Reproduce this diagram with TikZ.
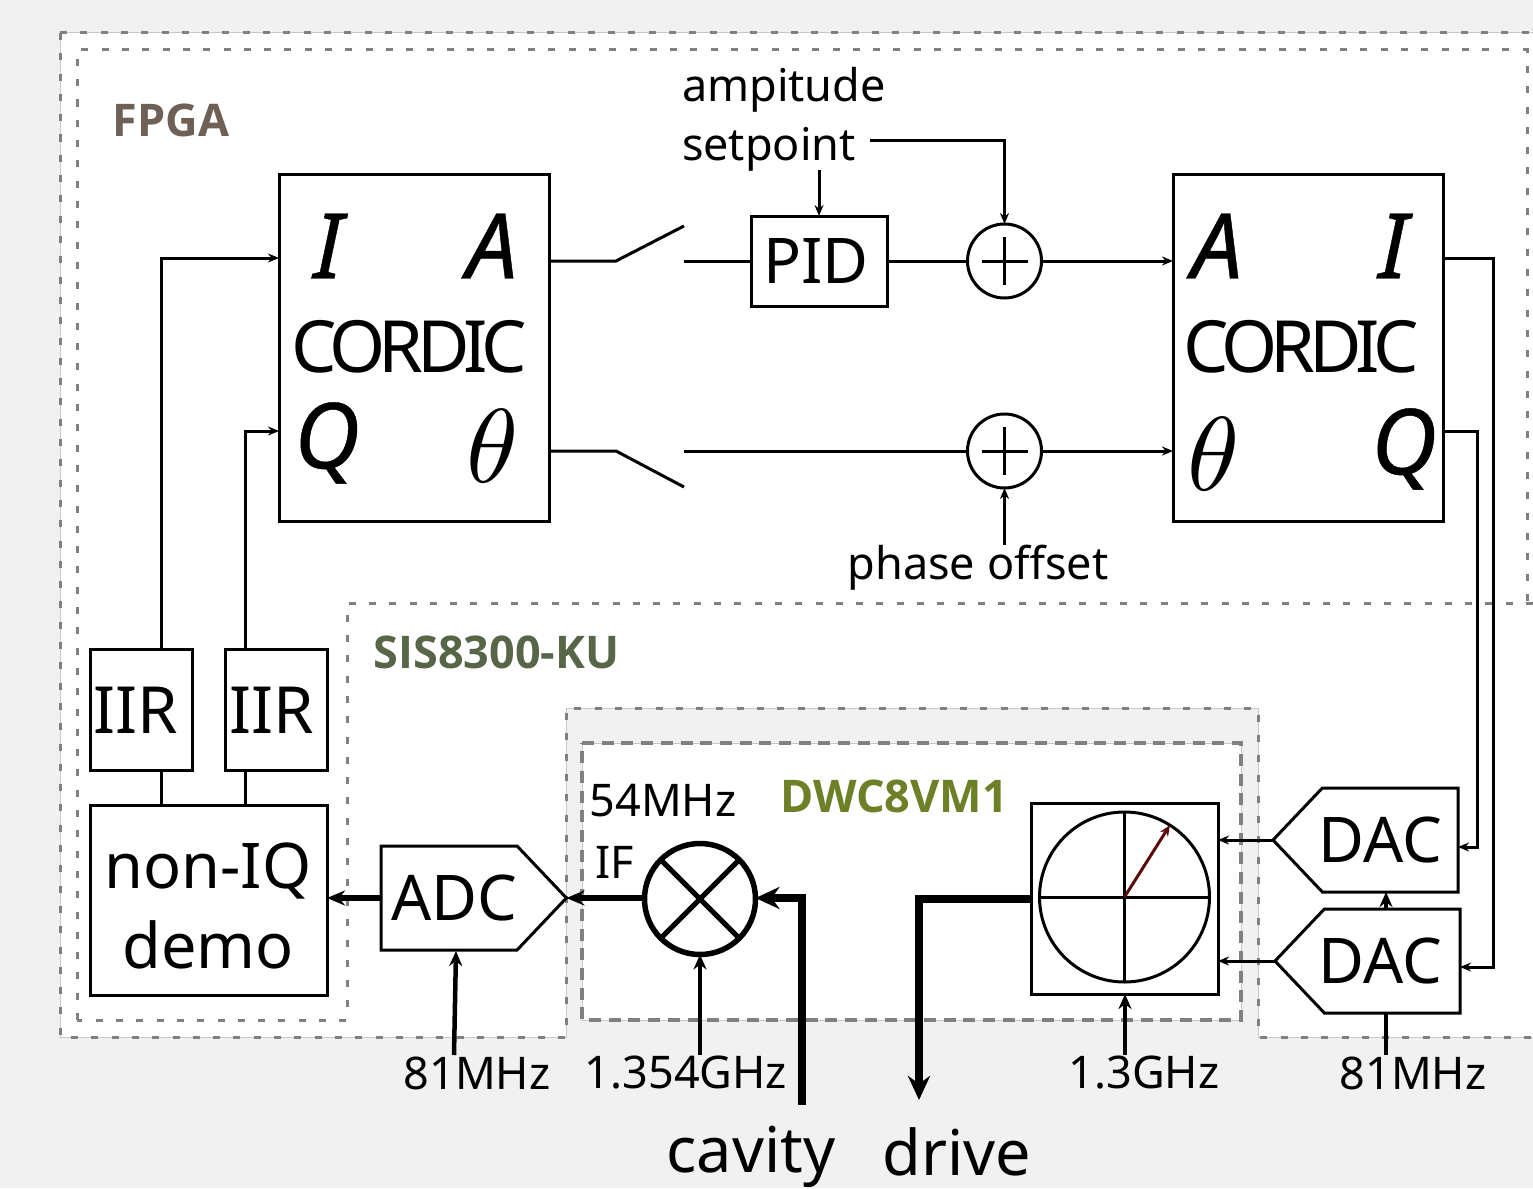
\documentclass[tikz,border=0pt]{standalone}
\usepackage{graphicx}
\usepackage{fontspec}
\setmainfont{Noto Sans}
\newfontfamily\boardfont{Open Sans}
\usetikzlibrary{calc,shapes.symbols,arrows.meta}
\definecolor{pagegray}{HTML}{F1F1F1}
\definecolor{dashgray}{HTML}{808080}
\definecolor{edgegray}{HTML}{C8C8C8}
\definecolor{fpgabrown}{HTML}{6F6055}
\definecolor{sisgreen}{HTML}{566647}
\definecolor{dwcgreen}{HTML}{6D7F27}
\definecolor{phasorred}{HTML}{5A0A0A}
\newcommand{\fs}[1]{\fontsize{#1}{#1}\selectfont}
\newcommand{\bigtheta}{\scalebox{10.5}{$\theta$}}
\tikzset{
    sumcircle/.style={
        draw, circle, minimum size=74pt, line width=3pt,
        inner sep=0pt,
        path picture = {
            \draw[line width=3pt]
            ($(path picture bounding box.center)+(-23,0)$) --
            ($(path picture bounding box.center)+(23,0)$)
            ($(path picture bounding box.center)+(0,-24)$) --
            ($(path picture bounding box.center)+(0,24)$);
        }
    },
    mixcircle/.style={
        draw, circle, minimum size=111pt, line width=5.5pt,
        inner sep=0pt,
        path picture = {
            \draw[line width=5pt]
            (path picture bounding box.north west) --
            (path picture bounding box.south east)
            (path picture bounding box.south west) --
            (path picture bounding box.north east);
        }
    }
}

\begin{document}
\begin{tikzpicture}[
        x=1pt, y=-1pt,
        every node/.style={outer sep=0pt, inner sep=0pt},
        block/.style={draw, rectangle, line width=3pt},
        converter/.style={
            draw, signal, line width=3pt, signal pointer angle=93,
            minimum height=104pt
        },
        label/.style={font=\fs{45}},
        big/.style={font=\fs{63}},
        board/.style={font=\fs{45}\boardfont\bfseries},
        letter/.style={font=\fs{91}\itshape\addfontfeature{FakeBold=0.5}},
        cordic/.style={font=\fs{72}\addfontfeature{LetterSpace=-9}},
        wire/.style={line width=3pt, -{Stealth[length=11pt,width=9pt]}},
        plain/.style={line width=3pt},
        clock/.style={line width=4.5pt, -{Stealth[length=15pt,width=13pt]}},
        feed/.style={line width=6pt, -{Stealth[length=18pt,width=15pt]}},
        power/.style={line width=8pt, -{Stealth[length=24pt,width=22pt]}},
        region/.style={draw=dashgray, line width=3pt, dash pattern=on 7pt off 13.3pt},
        inner region/.style={draw=dashgray, line width=4pt, dash pattern=on 12pt off 7.7pt}
    ]

    \useasboundingbox (0,0) rectangle (1533,1188);
    \fill[pagegray] (0,0) rectangle (1533,1188);

    % boards
    \fill[white] (60,33) -- (1540,33) -- (1540,1037) -- (1258,1037) -- (1258,708)
        -- (566,708) -- (566,1037) -- (60,1037) -- cycle;
    \fill[white] (582,743) rectangle (1241,1020);
    \draw[edgegray, line width=1pt] (60,33) -- (1540,33) -- (1540,1037) -- (1258,1037) -- (1258,708)
        -- (566,708) -- (566,1037) -- (60,1037) -- cycle;
    \draw[edgegray, line width=1pt] (582,743) rectangle (1241,1020);
    \draw[region] (60,33) -- (1540,33);
    \draw[region] (60,33) -- (60,1037) -- (566,1037) -- (566,708) -- (1258,708) -- (1258,1037) -- (1540,1037);
    \draw[region] (77,1020) -- (77,50) -- (1527,50) -- (1527,603);
    \draw[region] (1533,603) -- (347,603) -- (347,1020) -- (77,1020);
    \draw[inner region] (582,743) -- (1241,743) -- (1241,1020) -- (582,1020) -- cycle;

    \node[board, text=fpgabrown] (fpga) at (171,120) {FPGA};
    \node[board, text=sisgreen] (sis) at (496.5,652) {SIS8300-KU};
    \node[board, text=dwcgreen] (dwc) at (894,796) {DWC8VM1};

    % blocks
    \node[block, minimum width=270pt, minimum height=347pt] (cordicin) at (414,347.5) {};
    \node[block, minimum width=270pt, minimum height=347pt] (cordicout) at (1308,347.5) {};
    \node[cordic] (cin) at (409,347) {CORDIC};
    \node[cordic] (cout) at (1301,347) {CORDIC};
    \node[letter] (inI) at (328,246) {I};
    \node[letter] (inA) at (492,246) {A};
    \node[letter] (inQ) at (327,443) {Q};
    \node (inT) at (493,446.5) {\bigtheta};
    \node[letter] (outA) at (1217,246) {A};
    \node[letter] (outI) at (1393,246) {I};
    \node (outT) at (1214,454) {\bigtheta};
    \node[letter] (outQ) at (1404,449) {Q};

    \node[block, big, minimum width=136pt, minimum height=90pt] (pid) at (819,261) {\kern-6pt PID};
    \node[sumcircle] (suma) at (1004.5,261) {};
    \node[sumcircle] (sumt) at (1004.5,451) {};

    \node[block, font=\fs{65}, minimum width=102pt, minimum height=121pt] (iira) at (141,710) {\kern-10pt IIR};
    \node[block, font=\fs{65}, minimum width=102pt, minimum height=121pt] (iirb) at (276,710) {\kern-8pt\raisebox{-2pt}{IIR}};
    \node[block, minimum width=237pt, minimum height=190pt] (demo) at (208.5,900) {};
    \node[big, anchor=base] (nonq) at (208,888) {non-IQ};
    \node[big, anchor=base] (demotext) at (208,968) {demo};

    \node[converter, big, signal to=east, anchor=west, minimum width=184pt] (adc) at (381,898) {\kern10pt ADC};
    \node[mixcircle] (mixer) at (700,899) {};
    \node[block, minimum width=187pt, minimum height=191pt] (phasor) at (1124.5,898.5) {};
    \node[draw, circle, line width=3pt, minimum size=170pt] (unit) at (1124.5,897) {};
    \node[converter, big, signal to=west, anchor=east, minimum width=185pt] (daca) at (1458,840) {\kern-20pt DAC};
    \node[converter, big, signal to=west, anchor=east, minimum width=185pt] (dacb) at (1460,961) {\kern-24pt DAC};

    % texts
    \node[label, anchor=base west] (amp) at (682,102) {ampitude};
    \node[label, anchor=base west] (set) at (682,160) {setpoint};
    \node[label] (off) at (978,568) {phase offset};
    \node[label] (adcclk) at (477,1073) {81MHz};
    \node[label] (lo) at (686,1073) {1.354GHz};
    \node[label] (upclk) at (1144,1073) {1.3GHz};
    \node[label] (dacclk) at (1413,1073) {81MHz};
    \node[label] (ifreq) at (663,801) {54MHz};
    \node[label] (iflabel) at (615,862) {IF};
    \node[big] (cavity) at (751,1157) {cavity};
    \node[big] (drive) at (957,1152) {drive};

    % switches
    \coordinate (swapost) at (616,261);
    \coordinate (swaopen) at (684,226);
    \coordinate (swaback) at (684,261);
    \coordinate (swtpost) at (616,451);
    \coordinate (swtopen) at (684,487);
    \coordinate (swtback) at (684,451);
    \draw[plain] (cordicin.east |- swapost) -- (swapost) -- (swaopen);
    \draw[plain] (swaback) -- (pid.west);
    \draw[plain] (pid.east) -- (suma.west);
    \draw[wire] (suma.east) -- (cordicout.west |- suma);
    \draw[plain] (cordicin.east |- swtpost) -- (swtpost) -- (swtopen);
    \draw[plain] (swtback) -- (sumt.west);
    \draw[wire] (sumt.east) -- (cordicout.west |- sumt);

    % setpoints
    \coordinate (setout) at (870,140);
    \coordinate (setpid) at (819,170);
    \coordinate (offout) at (1004.5,545);
    \draw[wire] (setout) -| (suma.north);
    \draw[wire] (setpid) -- (pid.north);
    \draw[wire] (offout) -- (sumt.south);

    % filters
    \coordinate (iinput) at (161,258);
    \coordinate (qinput) at (245,431);
    \draw[wire] (iinput |- iira.north) -- (iinput) -- (cordicin.west |- iinput);
    \draw[wire] (qinput |- iirb.north) -- (qinput) -- (cordicin.west |- qinput);
    \draw[plain] (iinput |- iira.south) -- (iinput |- demo.north);
    \draw[plain] (qinput |- iirb.south) -- (qinput |- demo.north);

    % outputs
    \coordinate (iturn) at (1493,258);
    \coordinate (qturn) at (1477,431);
    \coordinate (iend) at (1493,967);
    \coordinate (qend) at (1477,847);
    \draw[wire] (cordicout.east |- iturn) -- (iturn) -- (iend) -- (dacb.east |- iend);
    \draw[wire] (cordicout.east |- qturn) -- (qturn) -- (qend) -- (daca.east |- qend);

    % front end
    \draw[feed] (adc.west) -- (demo.east |- adc);
    \draw[feed] (mixer.west |- adc) -- (adc.east);
    \coordinate (cavityin) at (802,1105);
    \coordinate (driveout) at (919,1100);
    \draw[power] (cavityin) |- (mixer.east |- adc);
    \draw[power] (phasor.west) -| (driveout);
    \coordinate (adcfoot) at (454,1055);
    \coordinate (adchead) at (456,951);
    \coordinate (lofoot) at (700,1055);
    \coordinate (upfoot) at (1125,1055);
    \coordinate (dacfoot) at (1386,1055);
    \draw[clock] (adcfoot) -- (adchead);
    \draw[clock] (lofoot) -- (mixer.south);
    \draw[clock] (upfoot) -- (phasor.south -| upfoot);
    \draw[plain, line width=4pt] (dacfoot) -- (dacfoot |- dacb.south);
    \draw[clock] (dacfoot |- dacb.north) -- (dacfoot |- daca.south);
    \draw[wire] (daca.west) -- (phasor.east |- daca.west);
    \draw[wire] (dacb.west) -- (phasor.east |- dacb.west);

    % phasor
    \draw[plain] (unit.west) -- (unit.east);
    \draw[plain] (unit.north) -- (unit.south);
    \coordinate (phasortip) at (1170,825);
    \draw[phasorred, wire] (unit.center) -- (phasortip);

\end{tikzpicture}
\end{document}
